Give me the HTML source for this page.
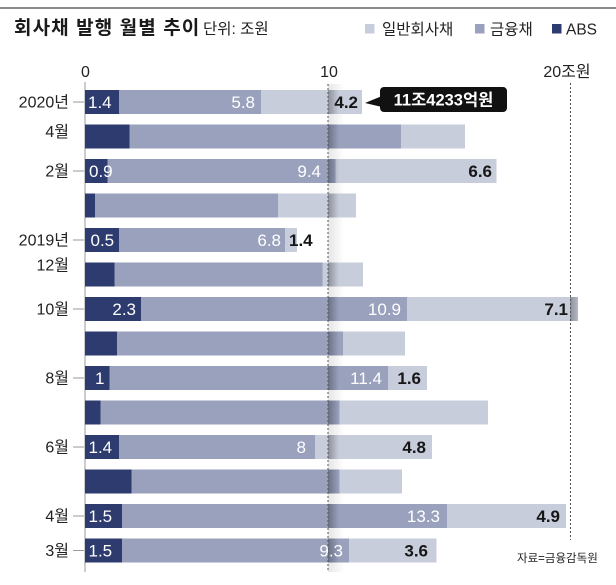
<!DOCTYPE html>
<html>
<head>
<meta charset="utf-8">
<style>
  html,body{margin:0;padding:0;background:#fff;}
  svg{display:block;}
  text{font-family:"Liberation Sans","Noto Sans CJK KR",sans-serif;}
</style>
</head>
<body>
<svg width="616" height="585" viewBox="0 0 616 585" xmlns="http://www.w3.org/2000/svg">
  <defs>
    <linearGradient id="shbar" gradientUnits="userSpaceOnUse" x1="328" y1="0" x2="339" y2="0">
      <stop offset="0" stop-color="#000" stop-opacity="0.30"/>
      <stop offset="1" stop-color="#000" stop-opacity="0"/>
    </linearGradient>
    <linearGradient id="shbg" gradientUnits="userSpaceOnUse" x1="328" y1="0" x2="344" y2="0">
      <stop offset="0" stop-color="#000" stop-opacity="0.10"/>
      <stop offset="1" stop-color="#000" stop-opacity="0"/>
    </linearGradient>
    <linearGradient id="shbar20" gradientUnits="userSpaceOnUse" x1="570" y1="0" x2="580" y2="0">
      <stop offset="0" stop-color="#000" stop-opacity="0.30"/>
      <stop offset="1" stop-color="#000" stop-opacity="0.05"/>
    </linearGradient>
  </defs>

  <rect x="0" y="0" width="616" height="585" fill="#fff"/>
  <rect x="0" y="7" width="616" height="2" fill="#8a8a8a"/>

  <text x="14" y="34" font-size="19" font-weight="bold" fill="#1a1a1a" letter-spacing="1.1">회사채 발행 월별 추이</text>
  <text x="203" y="34" font-size="15.5" fill="#222">단위: 조원</text>

  <rect x="365" y="24" width="9.5" height="9.5" fill="#c8cddb"/>
  <text x="382" y="34.5" font-size="15.5" fill="#222">일반회사채</text>
  <rect x="475" y="24" width="9.5" height="9.5" fill="#99a1bd"/>
  <text x="490" y="34.5" font-size="15.5" fill="#222">금융채</text>
  <rect x="552" y="24" width="9.5" height="9.5" fill="#2d3b6e"/>
  <text x="566" y="34.5" font-size="15.5" fill="#222">ABS</text>

  <text x="85.5" y="77" font-size="16" fill="#222" text-anchor="middle">0</text>
  <text x="329" y="77" font-size="16" fill="#222" text-anchor="middle">10</text>
  <text x="567" y="77" font-size="16" fill="#222" text-anchor="middle">20조원</text>

  <rect x="328" y="84" width="16" height="488" fill="url(#shbg)"/>
  <rect x="84.5" y="82" width="1" height="490" fill="#9a9a9a"/>

  <g>
    <rect x="85" y="90" width="34" height="24" fill="#2d3b6e"/>
    <rect x="119" y="90" width="142" height="24" fill="#99a1bd"/>
    <rect x="261" y="90" width="101" height="24" fill="#c8cddb"/>

    <rect x="85" y="124.5" width="44.5" height="24" fill="#2d3b6e"/>
    <rect x="129.5" y="124.5" width="271.5" height="24" fill="#99a1bd"/>
    <rect x="401" y="124.5" width="64" height="24" fill="#c8cddb"/>

    <rect x="85" y="159" width="22.5" height="24" fill="#2d3b6e"/>
    <rect x="107.5" y="159" width="228" height="24" fill="#99a1bd"/>
    <rect x="335.5" y="159" width="161" height="24" fill="#c8cddb"/>

    <rect x="85" y="193.5" width="10" height="24" fill="#2d3b6e"/>
    <rect x="95" y="193.5" width="183" height="24" fill="#99a1bd"/>
    <rect x="278" y="193.5" width="78" height="24" fill="#c8cddb"/>

    <rect x="85" y="228" width="34" height="24" fill="#2d3b6e"/>
    <rect x="119" y="228" width="166" height="24" fill="#99a1bd"/>
    <rect x="285" y="228" width="12" height="24" fill="#c8cddb"/>

    <rect x="85" y="262.5" width="29.5" height="24" fill="#2d3b6e"/>
    <rect x="114.5" y="262.5" width="208" height="24" fill="#99a1bd"/>
    <rect x="322.5" y="262.5" width="40.5" height="24" fill="#c8cddb"/>

    <rect x="85" y="297" width="56" height="24" fill="#2d3b6e"/>
    <rect x="141" y="297" width="266" height="24" fill="#99a1bd"/>
    <rect x="407" y="297" width="171" height="24" fill="#c8cddb"/>

    <rect x="85" y="331.5" width="32" height="24" fill="#2d3b6e"/>
    <rect x="117" y="331.5" width="226" height="24" fill="#99a1bd"/>
    <rect x="343" y="331.5" width="62" height="24" fill="#c8cddb"/>

    <rect x="85" y="366" width="24.5" height="24" fill="#2d3b6e"/>
    <rect x="109.5" y="366" width="278.5" height="24" fill="#99a1bd"/>
    <rect x="388" y="366" width="39" height="24" fill="#c8cddb"/>

    <rect x="85" y="400.5" width="15.5" height="24" fill="#2d3b6e"/>
    <rect x="100.5" y="400.5" width="239" height="24" fill="#99a1bd"/>
    <rect x="339.5" y="400.5" width="148.5" height="24" fill="#c8cddb"/>

    <rect x="85" y="435" width="34" height="24" fill="#2d3b6e"/>
    <rect x="119" y="435" width="196" height="24" fill="#99a1bd"/>
    <rect x="315" y="435" width="117" height="24" fill="#c8cddb"/>

    <rect x="85" y="469.5" width="46.5" height="24" fill="#2d3b6e"/>
    <rect x="131.5" y="469.5" width="208" height="24" fill="#99a1bd"/>
    <rect x="339.5" y="469.5" width="62.5" height="24" fill="#c8cddb"/>

    <rect x="85" y="504" width="37" height="24" fill="#2d3b6e"/>
    <rect x="122" y="504" width="325" height="24" fill="#99a1bd"/>
    <rect x="447" y="504" width="119" height="24" fill="#c8cddb"/>

    <rect x="85" y="538.5" width="37" height="24" fill="#2d3b6e"/>
    <rect x="122" y="538.5" width="227" height="24" fill="#99a1bd"/>
    <rect x="349" y="538.5" width="87.5" height="24" fill="#c8cddb"/>
  </g>

  <g fill="url(#shbar)">
    <rect x="328" y="90" width="12" height="24"/>
    <rect x="328" y="124.5" width="12" height="24"/>
    <rect x="328" y="159" width="12" height="24"/>
    <rect x="328" y="193.5" width="12" height="24"/>
    <rect x="328" y="262.5" width="12" height="24"/>
    <rect x="328" y="297" width="12" height="24"/>
    <rect x="328" y="331.5" width="12" height="24"/>
    <rect x="328" y="366" width="12" height="24"/>
    <rect x="328" y="400.5" width="12" height="24"/>
    <rect x="328" y="435" width="12" height="24"/>
    <rect x="328" y="469.5" width="12" height="24"/>
    <rect x="328" y="504" width="12" height="24"/>
    <rect x="328" y="538.5" width="12" height="24"/>
  </g>
  <rect x="570" y="297" width="8" height="24" fill="url(#shbar20)"/>

  <line x1="328" y1="84" x2="328" y2="572" stroke="#555" stroke-width="1" stroke-dasharray="2,2"/>
  <line x1="570.5" y1="83" x2="570.5" y2="540" stroke="#555" stroke-width="1" stroke-dasharray="2,2"/>

  <g stroke="#9a9a9a" stroke-width="1">
    <line x1="73" y1="102" x2="84" y2="102"/>
    <line x1="73" y1="171" x2="84" y2="171"/>
    <line x1="73" y1="240" x2="84" y2="240"/>
    <line x1="73" y1="309" x2="84" y2="309"/>
    <line x1="73" y1="378" x2="84" y2="378"/>
    <line x1="73" y1="447" x2="84" y2="447"/>
    <line x1="73" y1="516" x2="84" y2="516"/>
    <line x1="73" y1="550.5" x2="84" y2="550.5"/>
  </g>

  <g font-size="16" fill="#222" text-anchor="end">
    <text x="69" y="107.5">2020년</text>
    <text x="69" y="137">4월</text>
    <text x="69" y="176.5">2월</text>
    <text x="69" y="245.5">2019년</text>
    <text x="69" y="270.5">12월</text>
    <text x="69" y="314.5">10월</text>
    <text x="69" y="383.5">8월</text>
    <text x="69" y="452.5">6월</text>
    <text x="69" y="521.5">4월</text>
    <text x="69" y="556">3월</text>
  </g>

  <g font-size="17" fill="#fff">
    <text x="88" y="108">1.4</text>
    <text x="255" y="108" text-anchor="end">5.8</text>
    <text x="89" y="177">0.9</text>
    <text x="321" y="177" text-anchor="end">9.4</text>
    <text x="90.5" y="246">0.5</text>
    <text x="281" y="246" text-anchor="end">6.8</text>
    <text x="136" y="315" text-anchor="end">2.3</text>
    <text x="401" y="315" text-anchor="end">10.9</text>
    <text x="104.5" y="384" text-anchor="end">1</text>
    <text x="382" y="384" text-anchor="end">11.4</text>
    <text x="88.5" y="453">1.4</text>
    <text x="306" y="453" text-anchor="end">8</text>
    <text x="88.5" y="522">1.5</text>
    <text x="440" y="522" text-anchor="end">13.3</text>
    <text x="88.5" y="556.5">1.5</text>
    <text x="343" y="556.5" text-anchor="end">9.3</text>
  </g>

  <g font-size="17" fill="#161616" font-weight="bold">
    <text x="358" y="108" text-anchor="end">4.2</text>
    <text x="492" y="177" text-anchor="end">6.6</text>
    <text x="289" y="246">1.4</text>
    <text x="568" y="315" text-anchor="end">7.1</text>
    <text x="421" y="384" text-anchor="end">1.6</text>
    <text x="426" y="453" text-anchor="end">4.8</text>
    <text x="560" y="522" text-anchor="end">4.9</text>
    <text x="428" y="556.5" text-anchor="end">3.6</text>
  </g>

  <path d="M365,103 L382,96 L382,107 Z" fill="#111"/>
  <rect x="380" y="87" width="127" height="25" rx="4" ry="4" fill="#111"/>
  <text x="443.5" y="105.5" font-size="16.5" font-weight="bold" fill="#fff" text-anchor="middle">11조4233억원</text>

  <text x="517" y="562" font-size="11.5" fill="#222">자료=금융감독원</text>
</svg>
</body>
</html>
